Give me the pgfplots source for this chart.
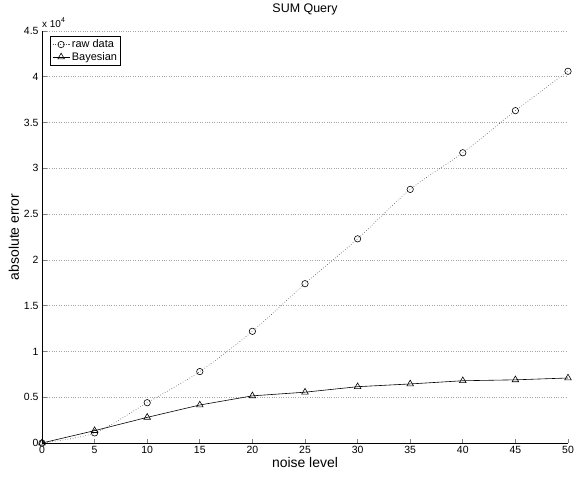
\documentclass[border=0pt]{standalone}
\usepackage{pgfplots}
\pgfplotsset{compat=1.18}
\usepackage{fontspec}
\setmainfont{Liberation Sans}
\begin{document}
\begin{tikzpicture}
\path[use as bounding box] (0,0) rectangle (576bp,481bp);
\begin{axis}[
    name=ax,
    at={(42bp,38bp)}, anchor=south west,
    scale only axis,
    width=526bp, height=412bp,
    xmin=0, xmax=50, ymin=0, ymax=45000,
    xtick={0,5,...,50},
    ytick={0,5000,...,45000},
    scaled y ticks=base 10:-4,
    ytick scale label code/.code={},
    /pgf/number format/assume math mode=true,
    axis lines=left,
    axis line style={-, line width=0.7pt},
    tick align=inside,
    major tick length=4.5bp,
    tick style={line width=0.7pt},
    ymajorgrids,
    grid style={dotted, gray!70, line width=0.6pt},
    tick label style={font=\fontsize{10.5}{12}\selectfont},
    xlabel={noise level}, ylabel={absolute error},
    label style={font=\fontsize{14}{16}\selectfont},
    xlabel style={yshift=3bp},
    ylabel style={yshift=-2bp},
    title={SUM Query},
    title style={font=\fontsize{12.5}{14}\selectfont, yshift=6bp},
    legend style={at={(axis description cs:0.016,0.988)}, anchor=north west,
        draw=black, line width=0.8pt, font=\fontsize{11}{12}\selectfont,
        inner sep=1.5pt, row sep=-1pt},
    legend cell align=left,
]
\addplot[black!70, dotted, line width=0.6pt, smooth, mark=o, mark size=3.2bp,
    mark options={solid, black, line width=0.6pt}]
    coordinates {(0,0) (5,1100) (10,4400) (15,7800) (20,12200) (25,17400)
        (30,22300) (35,27700) (40,31700) (45,36300) (50,40600)};
\addlegendentry{raw data}
\addplot[black, line width=0.6pt, mark=triangle, mark size=3.8bp]
    coordinates {(0,0) (5,1350) (10,2800) (15,4150) (20,5150) (25,5550)
        (30,6150) (35,6450) (40,6800) (45,6900) (50,7100)};
\addlegendentry{Bayesian}
\end{axis}
\node[anchor=south west, font=\fontsize{10}{11}\selectfont, inner sep=0pt]
    at ([yshift=3bp]ax.north west) {x 10\raisebox{1ex}{\fontsize{7}{8}\selectfont 4}};
\end{tikzpicture}
\end{document}
